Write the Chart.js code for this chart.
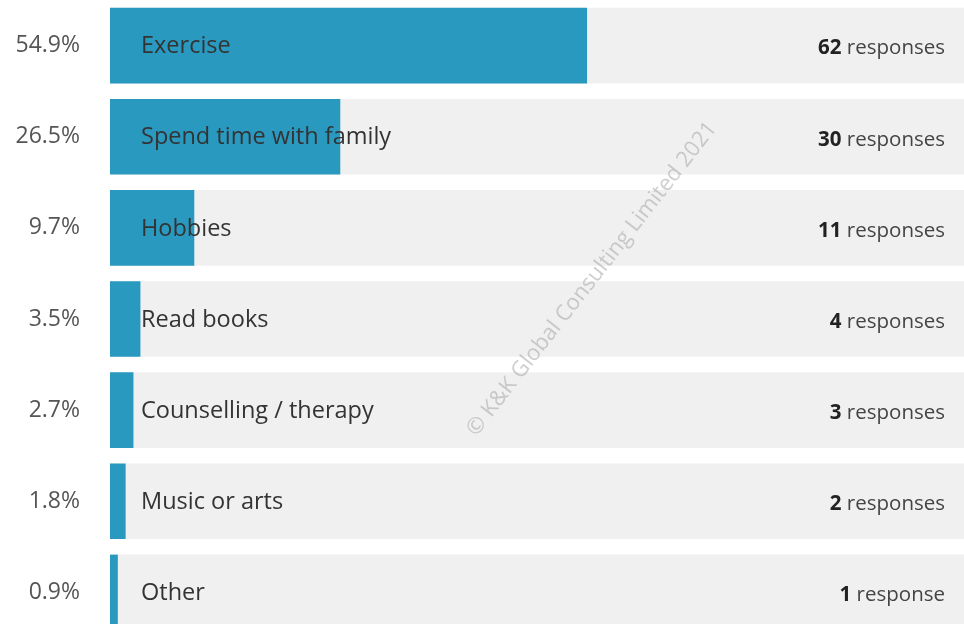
<!DOCTYPE html>
<html>
<head>
<meta charset="utf-8">
<script src="https://cdn.jsdelivr.net/npm/chart.js@4/dist/chart.umd.min.js"></script>
<style>
html,body{margin:0;padding:0;background:#fff;overflow:hidden;width:964px;height:624px;}
#wrap{position:absolute;left:0;top:0;width:979px;height:638px;}
</style>
</head>
<body>
<div id="wrap"><canvas id="c"></canvas></div>
<script>
const categories = ["Exercise","Spend time with family","Hobbies","Read books","Counselling / therapy","Music or arts","Other"];
const percentValues = [54.9, 26.5, 9.7, 3.5, 2.7, 1.8, 0.9];
const percentLabels = ["54.9%","26.5%","9.7%","3.5%","2.7%","1.8%","0.9%"];
const responseCounts = [62, 30, 11, 4, 3, 2, 1];
const trackValues = [100, 100, 100, 100, 100, 100, 100];
const watermark = "\u00A9 K&K Global Consulting Limited 2021";

const FONT = "'Open Sans', 'Noto Sans', sans-serif";

const overlay = {
  id: 'overlay',
  afterDatasetsDraw(chart) {
    const ctx = chart.ctx;
    const y = chart.scales.y;
    const area = chart.chartArea;
    ctx.save();
    ctx.textBaseline = 'middle';
    categories.forEach((name, i) => {
      const py = y.getPixelForValue(i) + 1;
      ctx.font = "23.5px " + FONT;
      ctx.fillStyle = '#333333';
      ctx.textAlign = 'left';
      ctx.fillText(name, area.left + 31, py);
      const n = responseCounts[i];
      const word = n === 1 ? ' response' : ' responses';
      ctx.font = "20.5px " + FONT;
      const ww = ctx.measureText(word).width;
      ctx.font = "bold 20.5px " + FONT;
      const nw = ctx.measureText(String(n)).width;
      const right = area.right - 34;
      ctx.fillStyle = '#444444';
      ctx.font = "20.5px " + FONT;
      ctx.fillText(word, right - ww, py + 2);
      ctx.fillStyle = '#222222';
      ctx.font = "bold 20.5px " + FONT;
      ctx.fillText(String(n), right - ww - nw, py + 2);
    });
    ctx.translate(592, 279);
    ctx.rotate(-52 * Math.PI / 180);
    ctx.font = "22px " + FONT;
    ctx.fillStyle = 'rgba(160,160,160,0.5)';
    ctx.textAlign = 'center';
    ctx.fillText(watermark, 0, 0);
    ctx.restore();
  }
};

new Chart(document.getElementById('c'), {
  type: 'bar',
  data: {
    labels: categories,
    datasets: [
      { data: percentValues, backgroundColor: '#2a99c0', order: 0, grouped: false,
        barPercentage: 0.83, categoryPercentage: 1.0 },
      { data: trackValues, backgroundColor: '#f0f0f0', order: 1, grouped: false,
        barPercentage: 0.83, categoryPercentage: 1.0 }
    ]
  },
  options: {
    indexAxis: 'y',
    responsive: true,
    maintainAspectRatio: false,
    animation: false,
    events: [],
    layout: { padding: 0, autoPadding: false },
    plugins: { legend: { display: false }, tooltip: { enabled: false } },
    scales: {
      x: { display: false, min: 0, max: 100 },
      y: {
        grid: { display: false },
        border: { display: false },
        afterFit(scale) { scale.width = 110; scale.paddingTop = 0; scale.paddingBottom = 0; },
        ticks: {
          padding: 22,
          color: '#555555',
          font: { family: FONT, size: 23 },
          callback: (v, i) => percentLabels[i]
        }
      }
    }
  },
  plugins: [overlay]
});
</script>
</body>
</html>
